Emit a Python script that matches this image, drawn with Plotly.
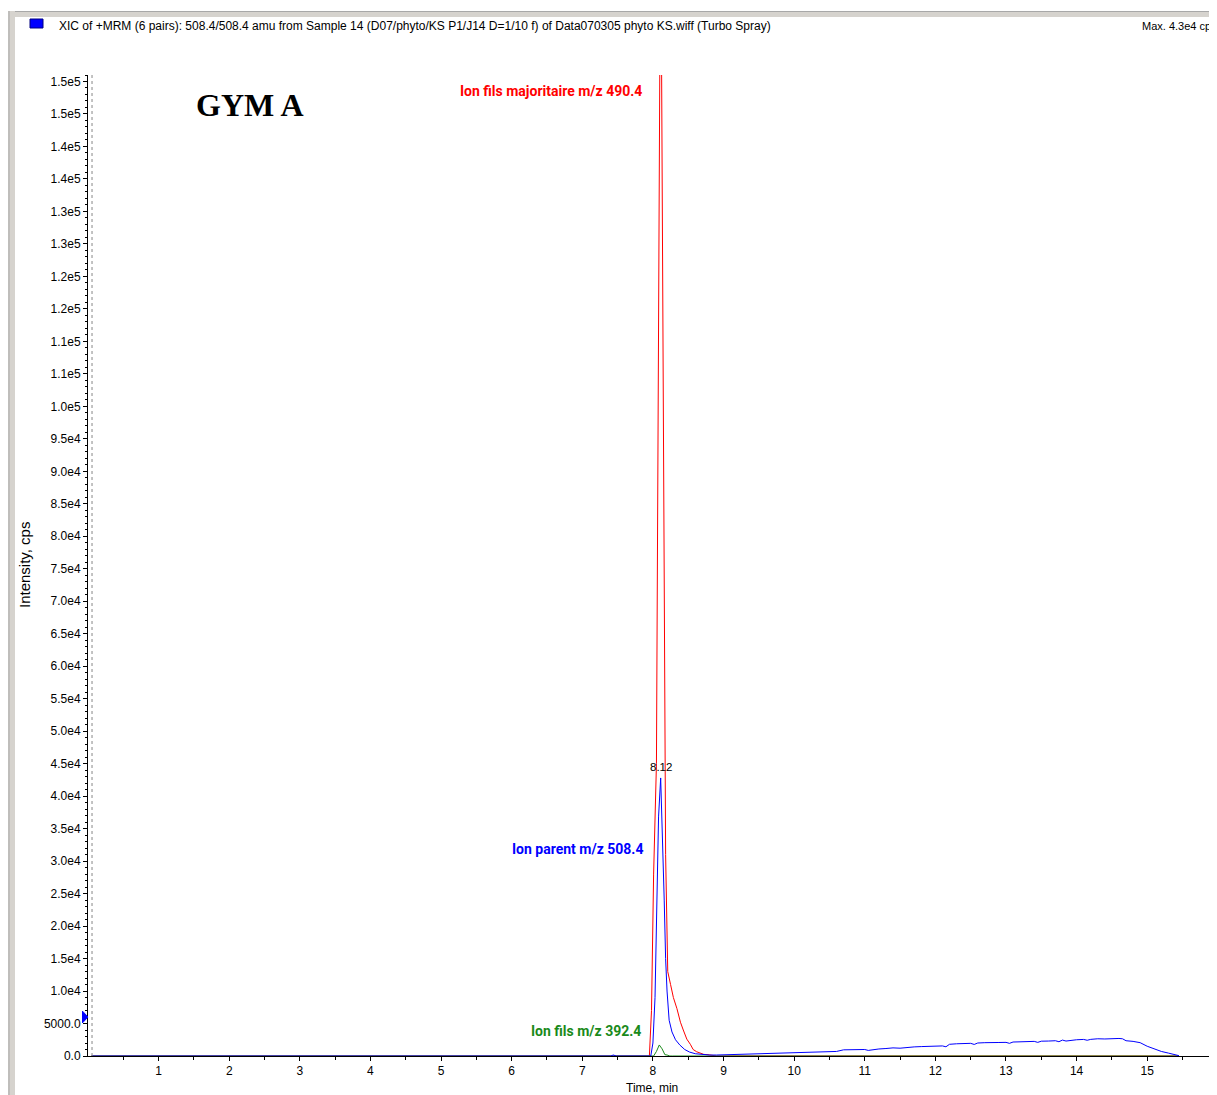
import plotly.graph_objects as go

# ---------------- data ----------------
red_t = [0.05, 7.90, 7.95, 7.98, 8.01, 8.05, 8.11, 8.18, 8.21, 8.25, 8.29, 8.34, 8.39,
         8.43, 8.48, 8.53, 8.57, 8.62, 8.67, 8.72, 8.78, 8.85, 8.90, 15.45]
red_v = [0, 0, 0, 7000, 28000, 45000, 180000, 31000, 13000, 11000, 9000, 7300, 5200,
         4000, 2600, 1800, 1000, 650, 400, 250, 200, 50, 0, 0]

green_t = [0.05, 7.98, 8.01, 8.05, 8.09, 8.13, 8.17, 8.20, 8.24, 8.28, 15.45]
green_v = [0, 0, 0, 700, 1700, 1100, 200, 150, 0, 0, 0]

blue_t = [0.05, 7.40, 7.44, 7.48, 7.97, 8.00, 8.03, 8.055, 8.08, 8.11, 8.14, 8.16, 8.18,
          8.20, 8.23, 8.27, 8.32, 8.38, 8.45, 8.52, 8.60, 8.70, 8.80, 8.90, 9.00, 9.10,
          9.20, 9.30, 9.40, 9.50, 9.60, 9.70, 9.80, 9.90, 10.00, 10.10, 10.20, 10.30,
          10.40, 10.50, 10.60, 10.70, 10.80, 10.90, 11.00, 11.05, 11.10, 11.20, 11.30,
          11.40, 11.50, 11.60, 11.70, 11.80, 11.90, 12.00, 12.10, 12.15, 12.20, 12.30,
          12.40, 12.50, 12.55, 12.60, 12.70, 12.80, 12.90, 13.00, 13.05, 13.10, 13.20,
          13.30, 13.40, 13.45, 13.50, 13.60, 13.70, 13.75, 13.80, 13.85, 13.90, 14.00,
          14.10, 14.15, 14.20, 14.30, 14.40, 14.50, 14.60, 14.65, 14.70, 14.80, 14.90,
          15.00, 15.10, 15.20, 15.30, 15.40, 15.45]
blue_v = [0, 0, 150, 0, 0, 2000, 9000, 24000, 36800, 42800, 33000, 24000, 15000,
          10000, 5500, 3700, 2500, 1700, 1000, 600, 350, 200, 150, 150, 180, 200,
          260, 250, 300, 280, 380, 420, 400, 450, 500, 520, 560, 600,
          620, 640, 700, 950, 980, 900, 1000, 860, 950, 1080, 1150,
          1250, 1200, 1350, 1400, 1450, 1500, 1520, 1550, 1420, 1800, 1880,
          1900, 1950, 1780, 2000, 2050, 2020, 2080, 2100, 1950, 2150, 2200,
          2220, 2250, 2100, 2280, 2300, 2350, 2200, 2450, 2300, 2400, 2500,
          2550, 2420, 2560, 2650, 2620, 2700, 2700, 2650, 2350, 2250, 2050,
          1500, 1100, 700, 450, 200, 50]

peak_time = [8.12]
peak_value = [43000]
peak_label = ["8.12"]
marker_level = [6000]

y_tickvals = list(range(0, 150001, 5000))
y_ticktext = ["0.0", "5000.0", "1.0e4", "1.5e4", "2.0e4", "2.5e4", "3.0e4", "3.5e4",
              "4.0e4", "4.5e4", "5.0e4", "5.5e4", "6.0e4", "6.5e4", "7.0e4", "7.5e4",
              "8.0e4", "8.5e4", "9.0e4", "9.5e4", "1.0e5", "1.1e5", "1.1e5", "1.2e5",
              "1.2e5", "1.3e5", "1.3e5", "1.4e5", "1.4e5", "1.5e5", "1.5e5"]
x_tickvals = [1, 2, 3, 4, 5, 6, 7, 8, 9, 10, 11, 12, 13, 14, 15]
x_ticktext = ["1", "2", "3", "4", "5", "6", "7", "8", "9", "10", "11", "12", "13", "14", "15"]

header_text = ("XIC of +MRM (6 pairs): 508.4/508.4 amu from Sample 14 (D07/phyto/KS P1/J14 "
               "D=1/10 f) of Data070305 phyto KS.wiff (Turbo Spray)")
max_text = "Max. 4.3e4 cps"

# ---------------- layout geometry (page pixels) ----------------
OFF = 8                      # body margin of the html page
W, H = 1217 - OFF, 1095 - OFF
PL, PR, PT, PB = 88, 1215, 75, 1056   # plot area in page pixels
ML, MR, MT, MB = PL - OFF, (W + OFF) - PR, PT - OFF, (H + OFF) - PB
PW, PH = PR - PL, PB - PT


def px(x):
    return (x - PL) / PW


def py(y):
    return (PB - y) / PH


SANS = "Liberation Sans, Arial, sans-serif"
LABEL = "Roboto, Liberation Sans, sans-serif"
SERIF = "Liberation Serif, Times New Roman, serif"

RED = "#ff0000"
BLUE = "#0000ff"
GREEN = "#1a8a1a"

fig = go.Figure()
fig.add_trace(go.Scatter(x=red_t, y=red_v, mode="lines", line=dict(color=RED, width=1),
                         hoverinfo="skip", showlegend=False))
fig.add_trace(go.Scatter(x=green_t, y=green_v, mode="lines", line=dict(color=GREEN, width=1),
                         hoverinfo="skip", showlegend=False))
fig.add_trace(go.Scatter(x=blue_t, y=blue_v, mode="lines", line=dict(color=BLUE, width=1),
                         hoverinfo="skip", showlegend=False))

fig.update_layout(
    width=W, height=H,
    margin=dict(l=ML, r=MR, t=MT, b=MB, pad=0),
    paper_bgcolor="white", plot_bgcolor="white",
    font=dict(family=SANS, size=12, color="black"),
    xaxis=dict(range=[0, 15.96], showgrid=False, zeroline=False, showline=True,
               linecolor="black", linewidth=1, ticks="outside", ticklen=4, tickcolor="black",
               tickvals=x_tickvals, ticktext=x_ticktext, tickfont=dict(size=12, family=SANS),
               minor=dict(tickvals=[0.5 + i for i in range(16)], ticks="outside", ticklen=3,
                          tickcolor="black")),
    yaxis=dict(range=[0, 151000], showgrid=False, zeroline=False, showline=True,
               linecolor="black", linewidth=1, ticks="outside", ticklen=4, tickcolor="black",
               tickvals=y_tickvals, ticktext=y_ticktext, tickfont=dict(size=12, family=SANS),
               minor=dict(dtick=1000, tick0=0, ticks="outside", ticklen=2, tickcolor="black")),
)

ml = marker_level[0]
shapes = [
    # window frame (grey bars)
    dict(type="rect", xref="paper", yref="paper", x0=px(12), x1=px(1230), y0=py(17), y1=py(11),
         fillcolor="#d6d3ce", line=dict(width=0), layer="above"),
    dict(type="line", xref="paper", yref="paper", x0=px(12), x1=px(1230), y0=py(11.5), y1=py(11.5),
         line=dict(color="#a8a8a8", width=1)),
    dict(type="rect", xref="paper", yref="paper", x0=px(8), x1=px(15), y0=py(1100), y1=py(11),
         fillcolor="#d6d3ce", line=dict(width=0), layer="above"),
    dict(type="line", xref="paper", yref="paper", x0=px(9), x1=px(9), y0=py(1100), y1=py(11),
         line=dict(color="#a8a8a8", width=1)),
    # legend square
    dict(type="rect", xref="paper", yref="paper", x0=px(30), x1=px(43), y0=py(28), y1=py(19),
         fillcolor=BLUE, line=dict(color="#000080", width=1)),
    # dotted line near the y axis
    dict(type="line", xref="x", yref="paper", x0=0.057, x1=0.057, y0=0, y1=1,
         line=dict(color="#888888", width=1, dash="dot")),
    # blue level marker (triangle) on the y axis
    dict(type="path", xref="paper", yref="y",
         path=f"M {px(82.5)} {ml + 900} L {px(88)} {ml} L {px(82.5)} {ml - 900} Z",
         fillcolor=BLUE, line=dict(color=BLUE, width=1), layer="above"),
]
fig.update_layout(shapes=shapes)

annotations = [
    dict(text=header_text, x=px(57), y=py(26), xref="paper", yref="paper", xanchor="left",
         yanchor="middle", showarrow=False, font=dict(size=12, family=SANS)),
    dict(text=max_text, x=px(1140), y=py(26), xref="paper", yref="paper", xanchor="left",
         yanchor="middle", showarrow=False, font=dict(size=11, family=SANS)),
    dict(text="<b>GYM A</b>", x=px(194), y=py(105), xref="paper", yref="paper", xanchor="left",
         yanchor="middle", showarrow=False, font=dict(size=32, family=SERIF, color="black")),
    dict(text="<b>Ion fils majoritaire m/z 490.4</b>", x=px(644), y=py(91), xref="paper",
         yref="paper", xanchor="right", yanchor="middle", showarrow=False,
         font=dict(size=14, family=LABEL, color=RED)),
    dict(text="<b>Ion parent m/z 508.4</b>", x=px(645), y=py(849), xref="paper",
         yref="paper", xanchor="right", yanchor="middle", showarrow=False,
         font=dict(size=14, family=LABEL, color=BLUE)),
    dict(text="<b>Ion fils m/z 392.4</b>", x=px(643), y=py(1031), xref="paper",
         yref="paper", xanchor="right", yanchor="middle", showarrow=False,
         font=dict(size=14, family=LABEL, color=GREEN)),
    dict(text=peak_label[0], x=peak_time[0], y=peak_value[0], xref="x", yref="y",
         xanchor="center", yanchor="bottom", yshift=2, showarrow=False,
         font=dict(size=11.5, family=SANS)),
    dict(text="Time, min", x=px(652), y=py(1088), xref="paper", yref="paper",
         xanchor="center", yanchor="middle", showarrow=False, font=dict(size=12, family=SANS)),
    dict(text="Intensity, cps", x=px(24), y=py(565), xref="paper", yref="paper", textangle=-90,
         xanchor="center", yanchor="middle", showarrow=False, font=dict(size=15, family=SANS)),
]
fig.update_layout(annotations=annotations)

fig.write_html("out.html")
